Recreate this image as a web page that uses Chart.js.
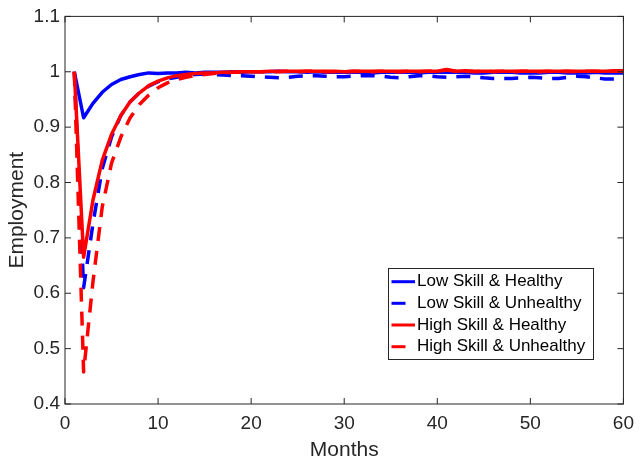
<!DOCTYPE html>
<html>
<head>
<meta charset="utf-8">
<script src="https://cdn.jsdelivr.net/npm/chart.js@4.4.0/dist/chart.umd.min.js"></script>
<style>
  html, body { margin: 0; padding: 0; background: #fff; }
  #chart { display: block; }
</style>
</head>
<body>
<canvas id="chart" width="642" height="461"></canvas>
<script>
// --- Data ---
const months = [1, 2, 3, 4, 5, 6, 7, 8, 9, 10, 11, 12, 13, 14, 15, 16, 17, 18, 19, 20,
  21, 22, 23, 24, 25, 26, 27, 28, 29, 30, 31, 32, 33, 34, 35, 36, 37, 38, 39, 40,
  41, 42, 43, 44, 45, 46, 47, 48, 49, 50, 51, 52, 53, 54, 55, 56, 57, 58, 59, 60];

const lowHealthy = [1.000, 0.917, 0.943, 0.963, 0.977, 0.986, 0.991, 0.995, 0.998, 0.997,
  0.998, 0.998, 0.999, 0.998, 0.999, 0.999, 0.999, 1.000, 0.999, 1.000,
  1.000, 1.000, 1.001, 1.000, 1.000, 0.999, 1.000, 0.999, 0.999, 0.999,
  0.999, 0.999, 0.998, 0.999, 0.999, 0.999, 0.999, 0.998, 0.999, 0.999,
  0.999, 0.999, 0.999, 0.998, 0.998, 0.999, 0.999, 0.999, 0.998, 0.998,
  0.998, 0.999, 0.999, 0.998, 0.998, 0.998, 0.999, 0.998, 0.998, 0.998];

const lowUnhealthy = [1.000, 0.610, 0.725, 0.825, 0.882, 0.921, 0.946, 0.962, 0.974, 0.982,
  0.987, 0.990, 0.993, 0.995, 0.996, 0.995, 0.994, 0.993, 0.993, 0.992,
  0.991, 0.990, 0.989, 0.990, 0.992, 0.993, 0.993, 0.992, 0.991, 0.991,
  0.992, 0.993, 0.993, 0.992, 0.990, 0.989, 0.991, 0.993, 0.993, 0.991,
  0.990, 0.991, 0.992, 0.991, 0.989, 0.988, 0.988, 0.988, 0.989, 0.990,
  0.989, 0.988, 0.988, 0.990, 0.992, 0.991, 0.989, 0.987, 0.987, 0.987];

const highHealthy = [1.000, 0.665, 0.768, 0.840, 0.887, 0.921, 0.946, 0.962, 0.975, 0.983,
  0.989, 0.993, 0.995, 0.997, 0.998, 0.998, 0.999, 0.999, 1.000, 1.000,
  1.000, 1.001, 1.001, 1.001, 1.001, 1.001, 1.001, 1.001, 1.001, 1.000,
  1.001, 1.001, 1.001, 1.001, 1.001, 1.001, 1.001, 1.001, 1.001, 1.001,
  1.004, 1.001, 1.002, 1.001, 1.001, 1.001, 1.001, 1.001, 1.001, 1.001,
  1.001, 1.001, 1.001, 1.001, 1.001, 1.001, 1.001, 1.001, 1.002, 1.002];

const highUnhealthy = [1.000, 0.458, 0.620, 0.756, 0.835, 0.882, 0.917, 0.941, 0.958, 0.971,
  0.980, 0.986, 0.990, 0.993, 0.995, 0.997, 0.998, 0.999, 0.999, 1.000,
  1.000, 1.000, 1.000, 1.001, 1.000, 1.001, 1.001, 1.000, 1.000, 1.000,
  1.001, 1.000, 1.000, 1.001, 1.000, 1.000, 1.001, 1.000, 1.001, 1.001,
  1.003, 1.001, 1.001, 1.000, 1.001, 1.000, 1.001, 1.000, 1.001, 1.001,
  1.000, 1.001, 1.000, 1.001, 1.000, 1.001, 1.001, 1.000, 1.001, 1.001];

const xTicks = [0, 10, 20, 30, 40, 50, 60];
const yTicks = [0.4, 0.5, 0.6, 0.7, 0.8, 0.9, 1, 1.1];

const seriesLabels = ['Low Skill & Healthy', 'Low Skill & Unhealthy', 'High Skill & Healthy', 'High Skill & Unhealthy'];

const BLUE = '#0000ff';
const RED = '#ff0000';
const AXIS = '#262626';
const DASH = [14, 10];
const FONT = '"Liberation Sans", Arial, Helvetica, sans-serif';

function toPoints(values) {
  return values.map((v, i) => ({ x: months[i], y: v }));
}

// --- Box, inward ticks, axis titles and legend ---
const framePlugin = {
  id: 'frame',
  afterDatasetsDraw(chart) {
    const { ctx, chartArea: a, scales } = chart;
    const tl = 6;
    ctx.save();
    ctx.strokeStyle = AXIS;
    ctx.lineWidth = 1;
    ctx.setLineDash([]);
    ctx.strokeRect(a.left, a.top, a.right - a.left, a.bottom - a.top);
    ctx.beginPath();
    xTicks.forEach(t => {
      const x = scales.x.getPixelForValue(t);
      ctx.moveTo(x, a.bottom); ctx.lineTo(x, a.bottom - tl);
      ctx.moveTo(x, a.top); ctx.lineTo(x, a.top + tl);
    });
    yTicks.forEach(t => {
      const y = scales.y.getPixelForValue(t);
      ctx.moveTo(a.left, y); ctx.lineTo(a.left + tl, y);
      ctx.moveTo(a.right, y); ctx.lineTo(a.right - tl, y);
    });
    ctx.stroke();

    // axis titles
    ctx.fillStyle = AXIS;
    ctx.font = '21px ' + FONT;
    ctx.textAlign = 'center';
    ctx.textBaseline = 'middle';
    ctx.fillText('Months', (a.left + a.right) / 2, 450);
    ctx.save();
    ctx.translate(17.5, (a.top + a.bottom) / 2);
    ctx.rotate(-Math.PI / 2);
    ctx.fillText('Employment', 0, 0);
    ctx.restore();

    // legend
    const lx = 388.5, ly = 268.5, lw = 205, lh = 91;
    ctx.fillStyle = '#fff';
    ctx.fillRect(lx, ly, lw, lh);
    ctx.strokeStyle = AXIS;
    ctx.strokeRect(lx, ly, lw, lh);
    ctx.font = '17px ' + FONT;
    ctx.textAlign = 'left';
    ctx.textBaseline = 'middle';
    const rowY = [281.7, 303.3, 325, 346.7];
    chart.data.datasets.forEach((ds, i) => {
      const y = rowY[i];
      ctx.strokeStyle = ds.borderColor;
      ctx.lineWidth = 3;
      ctx.setLineDash(ds.borderDash || []);
      ctx.beginPath();
      ctx.moveTo(391.5, y);
      ctx.lineTo(415, y);
      ctx.stroke();
      ctx.setLineDash([]);
      ctx.fillStyle = '#000';
      ctx.fillText(ds.label, 417, y);
    });
    ctx.restore();
  }
};

const lineStyle = {
  borderWidth: 3.5,
  pointRadius: 0,
  tension: 0,
  fill: false,
  borderJoinStyle: 'round',
  borderCapStyle: 'butt'
};

new Chart(document.getElementById('chart'), {
  type: 'line',
  data: {
    datasets: [
      { ...lineStyle, label: seriesLabels[0], data: toPoints(lowHealthy), borderColor: BLUE, order: 4 },
      { ...lineStyle, label: seriesLabels[1], data: toPoints(lowUnhealthy), borderColor: BLUE, borderDash: DASH, order: 3 },
      { ...lineStyle, label: seriesLabels[2], data: toPoints(highHealthy), borderColor: RED, order: 2 },
      { ...lineStyle, label: seriesLabels[3], data: toPoints(highUnhealthy), borderColor: RED, borderDash: DASH, order: 1 }
    ]
  },
  options: {
    responsive: false,
    animation: false,
    devicePixelRatio: 1,
    layout: { padding: { top: 14.5, right: 13, left: 0, bottom: 0 } },
    scales: {
      x: {
        type: 'linear',
        min: 0,
        max: 60,
        afterBuildTicks: s => { s.ticks = xTicks.map(v => ({ value: v })); },
        ticks: { color: AXIS, font: { size: 19, family: FONT }, padding: 8, maxRotation: 0 },
        grid: { display: false, drawTicks: false },
        border: { display: false },
        afterFit: s => { s.height = 57; }
      },
      y: {
        type: 'linear',
        min: 0.4,
        max: 1.1,
        afterBuildTicks: s => { s.ticks = yTicks.map(v => ({ value: v })); },
        ticks: { color: AXIS, font: { size: 19, family: FONT }, padding: 5, callback: v => String(+v.toFixed(1)) },
        grid: { display: false, drawTicks: false },
        border: { display: false },
        afterFit: s => { s.width = 65; }
      }
    },
    plugins: {
      legend: { display: false },
      tooltip: { enabled: false }
    }
  },
  plugins: [framePlugin]
});
</script>
</body>
</html>
